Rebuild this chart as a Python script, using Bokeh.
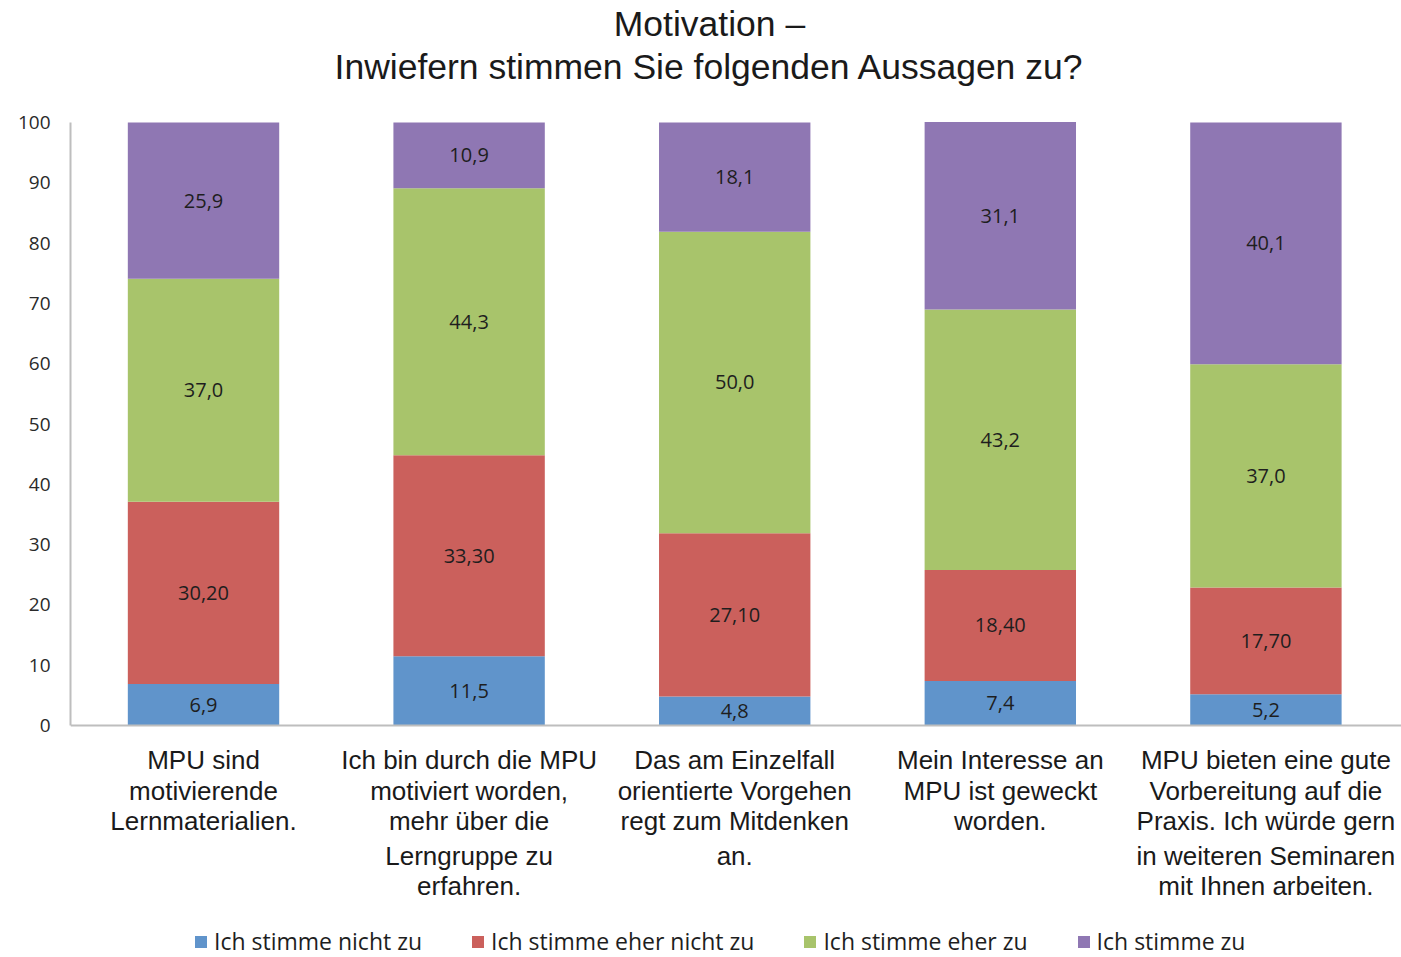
from bokeh.plotting import figure
from bokeh.models import ColumnDataSource, Range1d, FixedTicker, Span, Legend, LegendItem
from bokeh.core.properties import value
from bokeh.embed import file_html
from bokeh.resources import INLINE

# ---------------- data ----------------
categories = [
    "MPU sind\nmotivierende\nLernmaterialien.",
    "Ich bin durch die MPU\nmotiviert worden,\nmehr über die\nLerngruppe zu\nerfahren.",
    "Das am Einzelfall\norientierte Vorgehen\nregt zum Mitdenken\nan.",
    "Mein Interesse an\nMPU ist geweckt\nworden.",
    "MPU bieten eine gute\nVorbereitung auf die\nPraxis. Ich würde gern\nin weiteren Seminaren\nmit Ihnen arbeiten.",
]
series_names = ["Ich stimme nicht zu", "Ich stimme eher nicht zu",
                "Ich stimme eher zu", "Ich stimme zu"]
nicht_zu = [6.9, 11.5, 4.8, 7.4, 5.2]
eher_nicht_zu = [30.2, 33.3, 27.1, 18.4, 17.7]
eher_zu = [37.0, 44.3, 50.0, 43.2, 37.0]
zu = [25.9, 10.9, 18.1, 31.1, 40.1]
label_decimals = [1, 2, 1, 1]
y_ticks = [0, 10, 20, 30, 40, 50, 60, 70, 80, 90, 100]
title_lines = ["Motivation –", "Inwiefern stimmen Sie folgenden Aussagen zu?"]

# ---------------- style / layout ----------------
colors = ["#6094CB", "#CB605C", "#A8C46B", "#8F77B3"]
W, H = 1401, 957
LEFT = 70
Y0_PX = 725          # pixel row (from figure top) of value 0
PX_PER_UNIT = 6.03   # pixels per percentage point
CAT_LINE_PX = [759, 790, 820, 855, 885]   # rows of the category label lines
TITLE_PX = [23, 66]


def ydat(px_from_top):
    return (Y0_PX - px_from_top) / PX_PER_UNIT


series = [nicht_zu, eher_nicht_zu, eher_zu, zu]
keys = ["s0", "s1", "s2", "s3"]
xs = list(range(len(categories)))

src = ColumnDataSource(dict(x=xs, **{k: v for k, v in zip(keys, series)}))

p = figure(width=W, height=H, output_backend="svg", toolbar_location=None,
           x_range=Range1d(-0.5008, 4.5105), y_range=Range1d(ydat(H), ydat(0)),
           x_axis_location=None, min_border_left=LEFT, min_border_right=0,
           min_border_top=0, min_border_bottom=0, outline_line_color=None,
           background_fill_color="white", border_fill_color="white")
p.xgrid.visible = False
p.ygrid.visible = False

renderers = p.vbar_stack(keys, x="x", width=0.57, color=colors, line_color=None, source=src)

# value labels
lx, ly, lt = [], [], []
bottoms = [0.0] * len(xs)
for vals, dec in zip(series, label_decimals):
    for i, v in enumerate(vals):
        lx.append(xs[i])
        ly.append(bottoms[i] + v / 2)
        lt.append(f"{v:.{dec}f}".replace(".", ","))
        bottoms[i] += v
p.text(x=lx, y=ly, text=lt, text_align="center", text_baseline="middle",
       text_font=value("Open Sans"), text_font_size="20px", text_color="#1e1e1e")

# category labels under the bars (one text per line)
cx, cy, ct = [], [], []
for i, cat in enumerate(categories):
    for j, line in enumerate(cat.split("\n")):
        cx.append(xs[i])
        cy.append(ydat(CAT_LINE_PX[j]))
        ct.append(line)
p.text(x=cx, y=cy, text=ct, text_align="center", text_baseline="middle",
       text_font=value("Liberation Sans"), text_font_size="26px", text_color="#1a1a1a")

# title
p.text(x=[1.905, 1.905], y=[ydat(py) for py in TITLE_PX], text=title_lines, text_align="center",
       text_baseline="middle", text_font=value("Liberation Sans"), text_font_size="35.5px",
       text_color="#1a1a1a")

# axes
p.yaxis.bounds = (0, 100)
p.yaxis.ticker = FixedTicker(ticks=y_ticks)
p.yaxis.axis_line_color = "#BEBEBE"
p.yaxis.axis_line_width = 2
p.yaxis.major_tick_out = 0
p.yaxis.major_tick_in = 0
p.yaxis.minor_tick_out = 0
p.yaxis.minor_tick_in = 0
p.yaxis.major_label_standoff = 20
p.yaxis.major_label_text_font = "Open Sans"
p.yaxis.major_label_text_font_size = "19px"
p.yaxis.major_label_text_color = "#2a2a2a"

p.add_layout(Span(location=0, dimension="width", line_color="#BEBEBE", line_width=2))

legend = Legend(items=[LegendItem(label=n, renderers=[r]) for n, r in zip(series_names, renderers)],
                orientation="horizontal", location=(123, 0), margin=0, padding=0,
                spacing=48, label_standoff=6, glyph_width=15, glyph_height=15,
                label_text_font="Open Sans", label_text_font_size="23px", label_text_color="#1e1e1e",
                background_fill_alpha=0, border_line_color=None)
p.add_layout(legend)

open("out.html", "w").write(file_html(p, INLINE))
